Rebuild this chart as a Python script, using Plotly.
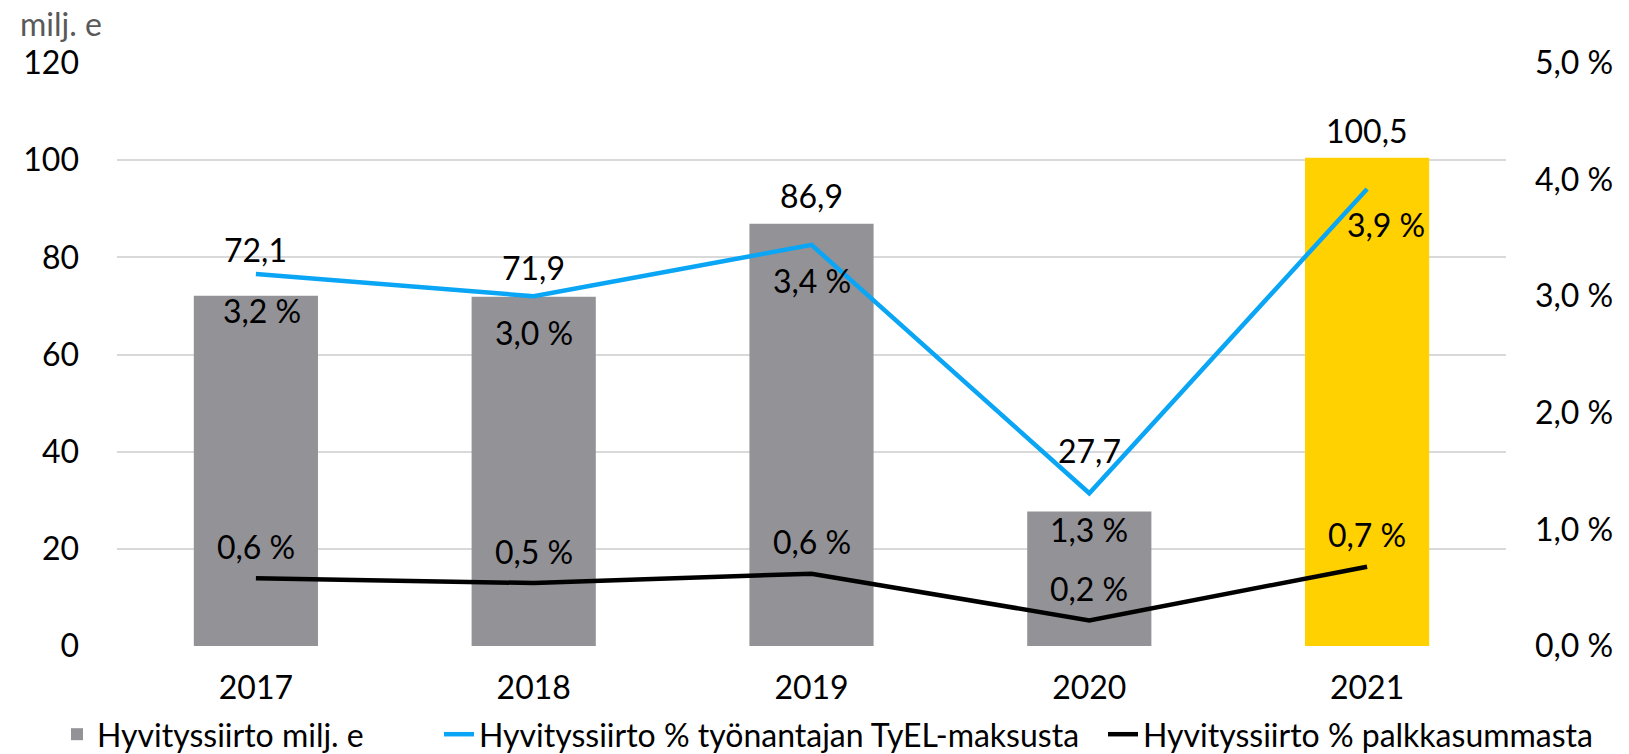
import plotly.graph_objects as go

years = ["2017", "2018", "2019", "2020", "2021"]
siirto_milj = [72.1, 71.9, 86.9, 27.7, 100.5]
pct_tyel = [3.19, 3.0, 3.44, 1.31, 3.92]
pct_palkka = [0.58, 0.54, 0.62, 0.22, 0.68]

bar_colors = ["#939297", "#939297", "#939297", "#939297", "#FFD100"]
bar_label_shift = [46, 29, 28, 61, 27]
tyel_label_xshift = [6, 0, 0, 0, 19]
FONT = "Lato, 'Open Sans', sans-serif"


def fi(v, dec=1):
    return f"{v:.{dec}f}".replace(".", ",")


fig = go.Figure()
fig.add_trace(go.Bar(
    x=years, y=siirto_milj, name="Hyvityssiirto milj. e",
    marker=dict(color=bar_colors, line=dict(width=0)),
    yaxis="y", hoverinfo="skip", legend="legend"))
fig.add_trace(go.Scatter(
    x=years, y=pct_tyel, name="Hyvityssiirto % työnantajan TyEL-maksusta",
    mode="lines", line=dict(color="#0AA6F5", width=4.5), yaxis="y2", legend="legend2"))
fig.add_trace(go.Scatter(
    x=years, y=pct_palkka, name="Hyvityssiirto % palkkasummasta",
    mode="lines", line=dict(color="#000000", width=4.5), yaxis="y2", legend="legend3"))

ann = []
for i, yr in enumerate(years):
    ann.append(dict(x=i, y=siirto_milj[i], xref="x", yref="y", text=fi(siirto_milj[i]),
                    showarrow=False, yshift=bar_label_shift[i], yanchor="middle",
                    font=dict(size=32, color="#000", family=FONT)))
    ann.append(dict(x=i, y=pct_tyel[i], xref="x", yref="y2", text=fi(pct_tyel[i]) + " %",
                    showarrow=False, yshift=-36, xshift=tyel_label_xshift[i], yanchor="middle",
                    font=dict(size=32, color="#000", family=FONT)))
    ann.append(dict(x=i, y=pct_palkka[i], xref="x", yref="y2", text=fi(pct_palkka[i]) + " %",
                    showarrow=False, yshift=32, yanchor="middle",
                    font=dict(size=32, color="#000", family=FONT)))
ann.append(dict(x=-0.0715, y=1.068, xref="paper", yref="paper", text="milj. e",
                showarrow=False, xanchor="left", yanchor="middle",
                font=dict(size=32, color="#595959", family=FONT)))

left_ticks = [0, 20, 40, 60, 80, 100, 120]
right_ticks = [0, 1, 2, 3, 4, 5]

leg_common = dict(orientation="h", xref="container", yref="container", y=0.026,
                  xanchor="left", yanchor="middle", itemwidth=30,
                  font=dict(size=32, family=FONT, color="#000"),
                  bgcolor="rgba(0,0,0,0)")

fig.update_layout(
    width=1629, height=754,
    margin=dict(l=117, r=123, t=63, b=108, autoexpand=False),
    paper_bgcolor="white", plot_bgcolor="white",
    font=dict(family=FONT, size=32, color="#000"),
    bargap=0.553,
    showlegend=True,
    legend=dict(x=57 / 1629, **leg_common),
    legend2=dict(x=439 / 1629, **leg_common),
    legend3=dict(x=1103 / 1629, **leg_common),
    xaxis=dict(type="category", range=[-0.5, 4.5], showgrid=False, showline=False,
               ticks="", ticklabelstandoff=20, tickfont=dict(size=32)),
    yaxis=dict(range=[0, 120], tickvals=left_ticks, ticktext=[str(t) for t in left_ticks],
               showgrid=True, gridcolor="#D9D9D9", gridwidth=1.5, zeroline=False,
               showline=False, ticks="", ticklabelstandoff=37, tickfont=dict(size=32)),
    yaxis2=dict(range=[0, 5], overlaying="y", side="right", tickvals=right_ticks,
                ticktext=[fi(t) + " %" for t in right_ticks], showgrid=False,
                zeroline=False, showline=False, ticks="", ticklabelstandoff=28,
                tickfont=dict(size=32)),
    annotations=ann,
)

fig.write_html("out.html", config={"displayModeBar": False},
               post_script="document.body.style.margin='0';document.body.style.overflow='hidden';")
